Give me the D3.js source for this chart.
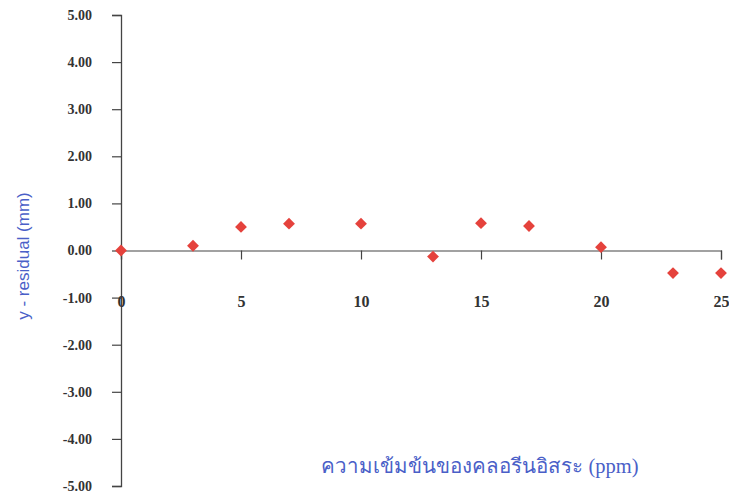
<!DOCTYPE html>
<html>
<head>
<meta charset="utf-8">
<script src="https://cdn.jsdelivr.net/npm/d3@7"></script>
<style>
  body { margin: 0; background: #fff; }
  svg { display: block; }
</style>
</head>
<body>
<div id="chart"></div>
<script>
// concentration (ppm) vs residual (mm)
const concentrations = [0, 3, 5, 7, 10, 13, 15, 17, 20, 23, 25];
const residuals = [0.00, 0.10, 0.50, 0.57, 0.57, -0.13, 0.58, 0.52, 0.07, -0.48, -0.48];
const xTicks = [0, 5, 10, 15, 20, 25];
const yTicks = [5, 4, 3, 2, 1, 0, -1, -2, -3, -4, -5];
const xTitle = 'ความเข้มข้นของคลอรีนอิสระ (ppm)';
const yTitle = 'y - residual (mm)';

const width = 729;
const height = 497;
const axisColor = '#444';
const titleColor = '#4a5fc8';

const scaleX = d3.scaleLinear()
  .domain([0, 25])
  .range([121, 721]);

const scaleY = d3.scaleLinear()
  .domain([-5, 5])
  .range([486, 15]);

const svg = d3.select('#chart')
  .append('svg')
    .attr('width', width)
    .attr('height', height);

// plain hyphen for negatives, like the original
const fmtY = d => d3.format('.2f')(d).replace('\u2212', '-');

// y axis
const axisY = d3.axisLeft(scaleY)
  .tickValues(yTicks)
  .tickSize(9)
  .tickPadding(20)
  .tickFormat(fmtY);

const gY = svg.append('g')
  .attr('transform', `translate(${scaleX(0)},0)`)
  .call(axisY);

gY.select('.domain').attr('stroke', axisColor).attr('stroke-width', 1.3);
gY.selectAll('.tick line').attr('stroke', axisColor).attr('stroke-width', 1.2);
gY.selectAll('.tick text')
  .attr('fill', '#333')
  .style('font-family', '"Liberation Serif", "DejaVu Serif", serif')
  .style('font-size', '14px')
  .style('font-weight', 'bold');

// x axis at y = 0
const axisX = d3.axisBottom(scaleX)
  .tickValues(xTicks)
  .tickSize(9)
  .tickPadding(36)
  .tickFormat(d3.format('d'));

const gX = svg.append('g')
  .attr('transform', `translate(0,${scaleY(0)})`)
  .call(axisX);

gX.select('.domain').attr('stroke', axisColor).attr('stroke-width', 1.2);
gX.selectAll('.tick line').attr('stroke', axisColor).attr('stroke-width', 1.2);
gX.selectAll('.tick text')
  .attr('fill', '#333')
  .style('font-family', '"Liberation Serif", "DejaVu Serif", serif')
  .style('font-size', '16px')
  .style('font-weight', 'bold');

// axis titles
svg.append('text')
  .attr('transform', `translate(29,256) rotate(-90)`)
  .attr('text-anchor', 'middle')
  .attr('fill', titleColor)
  .style('font-family', '"Liberation Sans", sans-serif')
  .style('font-size', '17px')
  .text(yTitle);

svg.append('text')
  .attr('x', 480)
  .attr('y', 473)
  .attr('text-anchor', 'middle')
  .attr('fill', titleColor)
  .style('font-family', '"Liberation Serif", "Noto Sans", serif')
  .style('font-size', '20.5px')
  .text(xTitle);

// points
const diamond = d3.symbol().type(d3.symbolSquare).size(70);

svg.append('g')
  .selectAll('path')
  .data(concentrations)
  .enter()
  .append('path')
    .attr('d', diamond)
    .attr('transform', (d, i) => `translate(${scaleX(d)},${scaleY(residuals[i])}) rotate(45)`)
    .attr('fill', '#e5423c');
</script>
</body>
</html>
